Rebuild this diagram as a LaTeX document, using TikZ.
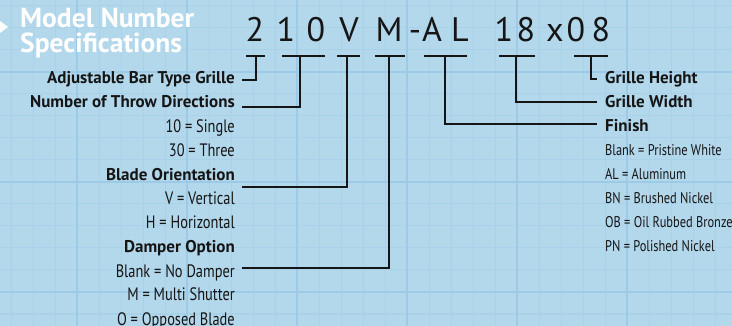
\documentclass[tikz,border=0pt]{standalone}
\usepackage{fontspec}
\setmainfont{PT Sans}
\newfontfamily\condf[FakeStretch=0.8]{PT Sans}
\newfontfamily\boldf{PT Sans Bold}
\newfontfamily\titlef{PT Sans Bold}
\newfontfamily\codef{PT Sans}
\definecolor{bgblue}{HTML}{B3D7EB}
\definecolor{gridminor}{HTML}{A9D1E8}
\definecolor{gridmajor}{HTML}{9DCAE6}
\definecolor{ink}{HTML}{151515}
\begin{document}
\begin{tikzpicture}[x=1pt,y=-1pt,
  minorline/.style={gridminor,line width=1pt},
  majorline/.style={gridmajor,line width=1.8pt},
  conn/.style={ink,line width=1.1pt},
  lhead/.style={anchor=base east,inner sep=0pt,font=\boldf\fontsize{17}{17}\selectfont,text=ink},
  litem/.style={anchor=base east,inner sep=0pt,font=\condf\fontsize{18}{18}\selectfont,text=ink},
  rhead/.style={anchor=base west,inner sep=0pt,font=\boldf\fontsize{17}{17}\selectfont,text=ink},
  ritem/.style={anchor=base west,inner sep=0pt,font=\condf\fontsize{15.5}{15.5}\selectfont,text=ink},
  codech/.style={anchor=base,inner sep=0pt,font=\codef\fontsize{34}{34}\selectfont,text=ink},
  titletext/.style={anchor=base west,inner sep=0pt,font=\titlef\fontsize{27.5}{27.5}\selectfont,text=white}]
\fill[bgblue] (0,0) rectangle (732,326);
\useasboundingbox (0,0) rectangle (732,326);
% grid
\foreach \gx in {11,33,55,99,121,143,165,209,231,253,275,319,341,363,385,429,451,473,495,539,561,583,605,649,671,693,715}
  \draw[minorline] (\gx,0) -- (\gx,326);
\foreach \gy in {6,28,50,94,116,138,160,204,226,248,270,314}
  \draw[minorline] (0,\gy) -- (732,\gy);
\foreach \gx in {77,187,297,407,517,627}
  \draw[majorline] (\gx,0) -- (\gx,326);
\foreach \gy in {72,182,292}
  \draw[majorline] (0,\gy) -- (732,\gy);
% title
\fill[white] (0,21) -- (8,27) -- (0,33) -- cycle;
\node[titletext] (t1) at (20,27.5) {Model Number};
\node[titletext] (t2) at (20,53) {Specifications};
% code characters
\node[codech] (c1) at (255,42) {2};
\node[codech] (c2) at (286,42) {1};
\node[codech] (c3) at (316,42) {0};
\node[codech] (c4) at (349,42) {V};
\node[codech] (c5) at (389,42) {M};
\node[codech] (c6) at (415,42) {-};
\node[codech] (c7) at (432,42) {A};
\node[codech] (c8) at (460,42) {L};
\node[codech] (c9) at (504,42) {1};
\node[codech] (c10) at (526,42) {8};
\node[codech] (c11) at (555,42) {x};
\node[codech] (c12) at (576,42) {0};
\node[codech] (c13) at (601,42) {8};
% underline segments
\coordinate (a1) at (246,56); \coordinate (b1) at (265,56); \coordinate (m1) at (256,56);
\coordinate (a2) at (282,56); \coordinate (b2) at (325,56); \coordinate (m2) at (300,56);
\coordinate (a3) at (337,56); \coordinate (b3) at (360,56); \coordinate (m3) at (347,56);
\coordinate (a4) at (375,56); \coordinate (b4) at (405,56); \coordinate (m4) at (389,56);
\coordinate (a5) at (424,56); \coordinate (b5) at (467,56); \coordinate (m5) at (445,56);
\coordinate (a6) at (499,56); \coordinate (b6) at (535,56); \coordinate (m6) at (516,56);
\coordinate (a7) at (574,56); \coordinate (b7) at (608,56); \coordinate (m7) at (591,56);
\foreach \i in {1,...,7} \draw[conn] (a\i) -- (b\i);
% left labels
\node[lhead] (l1) at (235,84) {Adjustable Bar Type Grille};
\node[lhead] (l2) at (235,108) {Number of Throw Directions};
\node[litem] (l3) at (235,133) {10 = Single};
\node[litem] (l4) at (235,157) {30 = Three};
\node[lhead] (l5) at (235,181) {Blade Orientation};
\node[litem] (l6) at (235,205) {V = Vertical};
\node[litem] (l7) at (235,229) {H = Horizontal};
\node[lhead] (l8) at (235,253) {Damper Option};
\node[litem] (l9) at (235,277) {Blank = No Damper};
\node[litem] (l10) at (235,301) {M = Multi Shutter};
\node[litem] (l11) at (235,325) {O = Opposed Blade};
% right labels
\node[rhead] (r1) at (605,84) {Grille Height};
\node[rhead] (r2) at (605,108) {Grille Width};
\node[rhead] (r3) at (605,132) {Finish};
\node[ritem] (r4) at (605,156) {Blank = Pristine White};
\node[ritem] (r5) at (605,180) {AL = Aluminum};
\node[ritem] (r6) at (605,204) {BN = Brushed Nickel};
\node[ritem] (r7) at (605,228) {OB = Oil Rubbed Bronze};
\node[ritem] (r8) at (605,252) {PN = Polished Nickel};
% connector ends
\coordinate (e1) at (242,80);
\coordinate (e2) at (242,107);
\coordinate (e3) at (242,187);
\coordinate (e4) at (242,268);
\coordinate (e5) at (597,124);
\coordinate (e6) at (597,102);
\coordinate (e7) at (597,79);
\draw[conn] (m1) |- (e1);
\draw[conn] (m2) |- (e2);
\draw[conn] (m3) |- (e3);
\draw[conn] (m4) |- (e4);
\draw[conn] (m5) |- (e5);
\draw[conn] (m6) |- (e6);
\draw[conn] (m7) |- (e7);
\end{tikzpicture}
\end{document}
